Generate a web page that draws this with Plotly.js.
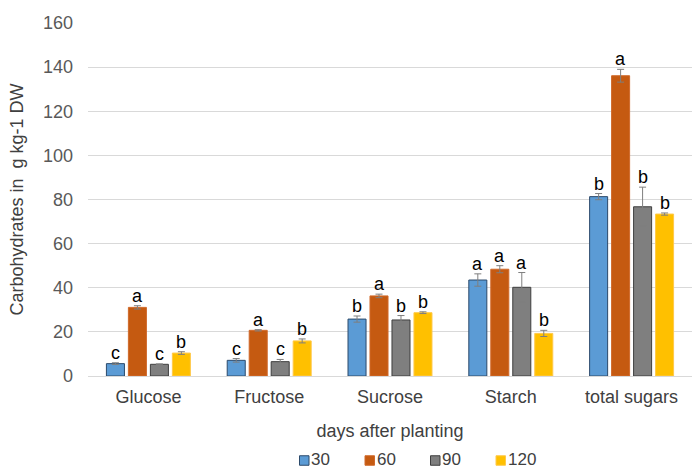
<!DOCTYPE html>
<html>
<head>
<meta charset="utf-8">
<script src="https://cdn.plot.ly/plotly-3.0.1.min.js"></script>
<style>
  html, body { margin: 0; padding: 0; background: #fff; }
  #chart { width: 696px; height: 469px; }
</style>
</head>
<body>
<div id="chart"></div>
<script>
// Carbohydrate content by sampling date (days after planting)
const categories = ['Glucose', 'Fructose', 'Sucrose', 'Starch', 'total sugars'];
const seriesNames = ['30', '60', '90', '120'];

const values30  = [5.6, 7.1, 25.8, 43.5, 81.3];
const values60  = [31.1, 20.7, 36.3, 48.4, 136.1];
const values90  = [5.3, 6.5, 25.4, 40.2, 76.7];
const values120 = [10.4, 15.9, 28.7, 19.3, 73.4];

const err30  = [0.4, 0.8, 1.4, 2.8, 1.4];
const err60  = [0.75, 0.3, 0.8, 1.6, 2.9];
const err90  = [0.2, 1.0, 2.0, 6.7, 8.9];
const err120 = [0.6, 0.9, 0.4, 1.4, 0.5];

// significance letters
const letters30  = ['c', 'c', 'b', 'a', 'b'];
const letters60  = ['a', 'a', 'a', 'a', 'a'];
const letters90  = ['c', 'c', 'b', 'a', 'b'];
const letters120 = ['b', 'b', 'b', 'b', 'b'];

const fillColors = ['#5b9bd5', '#c55a11', '#7f7f7f', '#ffc000'];
const edgeColors = ['#2c4a6b', '#d0692a', '#3f3f3f', '#ffc94a'];

const allValues = [values30, values60, values90, values120];
const allErrors = [err30, err60, err90, err120];
const allLetters = [letters30, letters60, letters90, letters120];

const FONT = 'Liberation Sans, Arial, sans-serif';
const W = 696, H = 469;
const M = { l: 88, r: 4, t: 23, b: 93 };
const plotW = W - M.l - M.r, plotH = H - M.t - M.b;

const bargap = 0.272;
const bargroupgap = 0.18;

const traces = allValues.map((vals, k) => ({
  type: 'bar',
  name: seriesNames[k],
  x: categories,
  y: vals,
  marker: { color: fillColors[k], line: { color: edgeColors[k], width: 1 } },
  error_y: { type: 'data', array: allErrors[k], visible: true, color: '#7f7f7f', thickness: 1, width: 3.5 },
  showlegend: false,
  hoverinfo: 'x+y+name'
}));

// letters sit just above each error bar
const slot = (1 - bargap) / seriesNames.length;
const annotations = [];
allValues.forEach((vals, k) => {
  const offset = -(1 - bargap) / 2 + (k + 0.5) * slot;
  vals.forEach((v, i) => {
    annotations.push({
      xref: 'x', yref: 'y',
      x: i + offset,
      y: v + allErrors[k][i],
      text: allLetters[k][i],
      showarrow: false,
      yanchor: 'bottom',
      yshift: -2,
      font: { family: FONT, size: 18, color: '#000' }
    });
  });
});

// legend row below the axis title: small colour squares followed by labels
const px2x = px => (px - M.l) / plotW;
const py2y = py => (H - M.b - py) / plotH;
const shapes = [];
const legendLeft = 299.5, legendStep = 65.5, legendMid = 459.5, sq = 9.5;
seriesNames.forEach((name, k) => {
  const x0 = legendLeft + k * legendStep;
  shapes.push({
    type: 'rect', xref: 'paper', yref: 'paper',
    x0: px2x(x0), x1: px2x(x0 + sq),
    y0: py2y(legendMid + 1 + sq / 2), y1: py2y(legendMid + 1 - sq / 2),
    fillcolor: fillColors[k],
    line: { color: edgeColors[k], width: 1 }
  });
  annotations.push({
    xref: 'paper', yref: 'paper',
    x: px2x(x0 + sq + 1), y: py2y(legendMid),
    xanchor: 'left', yanchor: 'middle',
    borderpad: 0,
    text: name, showarrow: false,
    font: { family: FONT, size: 17, color: '#404040' }
  });
});

const layout = {
  width: W,
  height: H,
  margin: M,
  paper_bgcolor: '#fff',
  plot_bgcolor: '#fff',
  font: { family: FONT, size: 18, color: '#404040' },
  barmode: 'group',
  bargap: bargap,
  bargroupgap: bargroupgap,
  showlegend: false,
  xaxis: {
    type: 'category',
    automargin: false,
    showline: true, linecolor: '#d9d9d9', linewidth: 1,
    ticks: '',
    ticklabelstandoff: 4,
    tickfont: { size: 18, color: '#404040' },
    title: { text: 'days after planting', font: { size: 18, color: '#404040' }, standoff: 18 },
    fixedrange: true
  },
  yaxis: {
    range: [0, 160],
    dtick: 20,
    automargin: false,
    showgrid: true, gridcolor: '#d9d9d9', gridwidth: 1,
    zeroline: false,
    showline: false,
    ticks: '',
    ticklabelstandoff: 14,
    tickfont: { size: 18, color: '#595959' },
    title: { text: 'Carbohydrates in\u00a0 g kg-1 DW', font: { size: 18, color: '#404040' }, standoff: 14 },
    fixedrange: true
  },
  shapes: shapes,
  annotations: annotations
};

Plotly.newPlot('chart', traces, layout, { displayModeBar: false, staticPlot: true });
</script>
</body>
</html>
